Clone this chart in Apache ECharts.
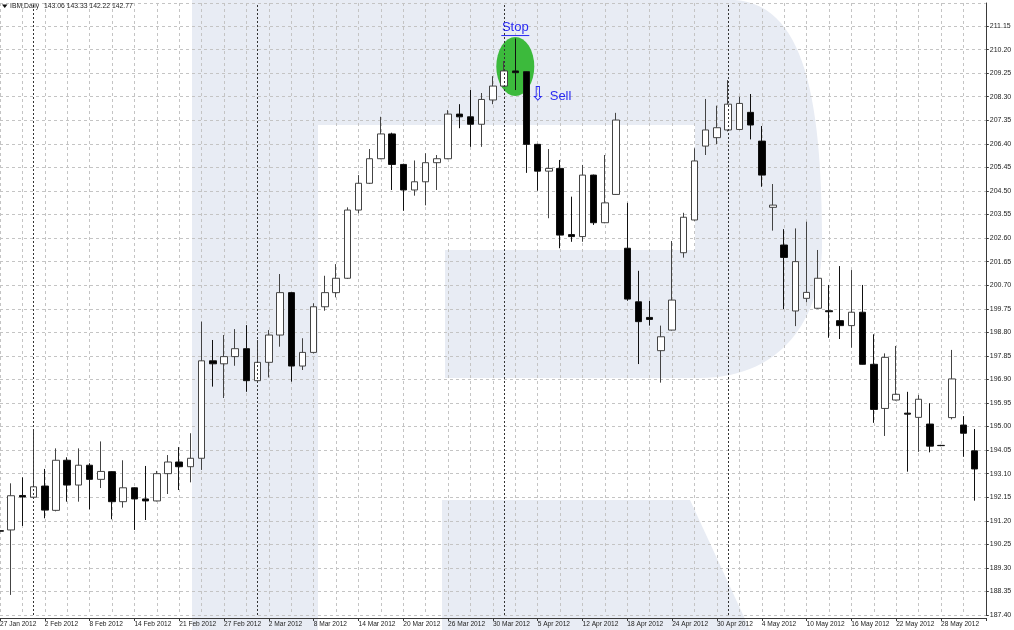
<!DOCTYPE html>
<html><head><meta charset="utf-8">
<script src="https://cdn.jsdelivr.net/npm/echarts@6/dist/echarts.min.js"></script>
<style>html,body{margin:0;padding:0;background:#fff}#c{width:1014px;height:630px}</style>
</head><body><div id="c"></div>
<script>
// ---- data (IBM, Daily) ----
const dates = ['27 Jan 2012','30 Jan 2012','31 Jan 2012','1 Feb 2012','2 Feb 2012','3 Feb 2012','6 Feb 2012','7 Feb 2012','8 Feb 2012','9 Feb 2012',
'10 Feb 2012','13 Feb 2012','14 Feb 2012','15 Feb 2012','16 Feb 2012','17 Feb 2012','21 Feb 2012','22 Feb 2012','23 Feb 2012','24 Feb 2012',
'27 Feb 2012','28 Feb 2012','29 Feb 2012','1 Mar 2012','2 Mar 2012','5 Mar 2012','6 Mar 2012','7 Mar 2012','8 Mar 2012','9 Mar 2012',
'12 Mar 2012','13 Mar 2012','14 Mar 2012','15 Mar 2012','16 Mar 2012','19 Mar 2012','20 Mar 2012','21 Mar 2012','22 Mar 2012','23 Mar 2012',
'26 Mar 2012','27 Mar 2012','28 Mar 2012','29 Mar 2012','30 Mar 2012','2 Apr 2012','3 Apr 2012','4 Apr 2012','5 Apr 2012','9 Apr 2012',
'10 Apr 2012','11 Apr 2012','12 Apr 2012','13 Apr 2012','16 Apr 2012','17 Apr 2012','18 Apr 2012','19 Apr 2012','20 Apr 2012','23 Apr 2012',
'24 Apr 2012','25 Apr 2012','26 Apr 2012','27 Apr 2012','30 Apr 2012','1 May 2012','2 May 2012','3 May 2012','4 May 2012','7 May 2012',
'8 May 2012','9 May 2012','10 May 2012','11 May 2012','14 May 2012','15 May 2012','16 May 2012','17 May 2012','18 May 2012','21 May 2012',
'22 May 2012','23 May 2012','24 May 2012','25 May 2012','28 May 2012','29 May 2012','30 May 2012','31 May 2012'];

const opens = [190.80,190.83,192.22,192.15,192.60,191.62,193.64,192.64,193.44,192.87,
193.18,191.97,192.53,192.08,192.00,193.10,193.57,193.38,193.72,197.65,
197.53,197.82,198.14,196.85,197.59,198.69,200.40,197.44,197.99,199.83,
200.40,200.98,203.73,204.81,205.80,206.80,205.57,204.54,204.87,205.64,
205.80,207.60,207.49,207.19,208.17,208.73,209.34,209.31,206.38,205.30,
205.41,202.74,202.66,205.14,203.22,204.36,202.19,200.03,199.40,198.06,
198.89,202.01,203.33,206.31,206.65,206.96,206.98,207.67,206.51,203.84,
202.32,199.66,200.17,199.77,199.67,199.27,199.07,199.61,197.51,195.73,
196.07,195.54,195.37,195.10,194.24,195.36,195.06,194.02];
const closes = [190.78,192.21,192.16,192.57,191.63,193.64,192.64,193.44,192.87,193.19,
191.97,192.53,192.08,192.00,193.10,193.57,193.38,193.72,197.65,197.53,
197.82,198.14,196.85,197.59,198.69,200.40,197.44,197.99,199.83,200.40,
200.98,203.73,204.81,205.80,206.80,205.57,204.54,204.87,205.64,205.80,
207.60,207.49,207.19,208.19,208.73,209.34,209.27,206.38,205.30,205.41,
202.72,202.66,205.14,203.22,204.02,207.36,200.14,199.23,199.32,198.62,
200.10,203.44,205.71,206.96,207.05,208.00,208.03,207.16,205.14,203.93,
201.82,201.65,200.41,200.98,199.63,199.07,199.61,197.51,195.69,197.79,
196.30,195.50,196.10,194.21,194.23,196.92,194.73,193.29];
const lows = [190.60,188.21,190.99,192.10,191.30,191.58,191.97,191.97,191.66,192.52,
191.26,191.73,190.83,191.23,191.98,192.28,192.44,192.75,193.25,196.61,
196.15,197.45,196.40,196.80,196.98,198.22,196.81,197.28,197.95,199.67,
200.21,200.95,203.60,204.78,205.78,204.54,203.70,204.31,203.92,204.54,
205.78,207.03,206.28,206.28,208.00,208.70,208.57,205.23,204.51,203.40,
202.19,202.45,202.45,203.13,203.20,204.34,200.07,197.52,199.07,196.77,
198.87,201.81,203.30,205.95,206.39,206.90,206.95,206.58,204.67,202.90,
199.73,199.05,200.01,199.75,198.58,198.53,198.18,197.50,195.15,194.62,
196.05,193.18,193.98,193.96,194.21,195.29,193.78,192.01];
const highs = [191.00,192.71,192.95,194.89,193.29,194.12,193.76,194.12,193.52,194.40,
193.20,193.64,192.55,193.41,193.21,193.85,194.17,194.73,199.23,198.49,
198.69,198.93,199.09,198.49,198.89,201.15,200.42,198.56,199.97,201.08,
201.55,203.84,205.14,206.19,207.49,206.85,205.60,205.73,206.02,205.95,
207.76,208.00,208.57,208.45,209.13,209.74,210.65,209.32,206.40,206.19,
205.75,204.27,205.55,205.16,205.95,207.65,204.02,201.28,200.07,199.07,
202.48,203.62,206.22,208.21,207.94,208.97,208.30,208.41,207.12,204.78,
202.96,202.99,203.26,202.12,200.71,201.47,201.31,200.71,198.72,197.95,
198.25,196.40,196.27,195.94,194.26,198.09,195.42,194.90];

// first bar of each month (period separators)
const monthStarts = ['1 Feb 2012','1 Mar 2012','2 Apr 2012','1 May 2012'];
// y tick labels: 187.40 + n*0.95
const yMin = 187.40, yStep = 0.95, yMax = 212.08;
const titleSymbol = 'IBM,Daily';
const titleValues = '143.06 143.33 142.22 142.77';
// annotation anchors [category, price]
const stopAnchor = ['3 Apr 2012', 209.52];
const stopLabelAnchor = ['3 Apr 2012', 211.11];
const sellAnchor = ['5 Apr 2012', 208.37];

const categories = dates.concat(['']);
const candles = dates.map((d, i) => [opens[i], closes[i], lows[i], highs[i]]);

const FONT = '"Liberation Sans", Arial, sans-serif';
const chart = echarts.init(document.getElementById('c'), null, {renderer: 'canvas'});

chart.setOption({
  animation: false,
  backgroundColor: '#ffffff',
  grid: {left: 0, right: 28.2, top: 3, bottom: 15, containLabel: false, outerBoundsMode: 'none'},
  xAxis: {
    type: 'category', data: categories, boundaryGap: false, offset: 3,
    axisLine: {lineStyle: {color: '#3a3a3a', width: 1}},
    axisTick: {show: true, interval: 3, length: 3, lineStyle: {color: '#3a3a3a'}},
    axisLabel: {interval: 3, align: 'left', margin: 3, fontSize: 6.6, color: '#222', fontFamily: FONT},
    splitLine: {show: true, interval: (i) => i % 2 === 0, lineStyle: {color: '#c4c4c4', type: [3, 3], width: 1}}
  },
  yAxis: {
    type: 'value', position: 'right', min: yMin, max: yMax, interval: yStep,
    axisLine: {show: true, lineStyle: {color: '#3a3a3a', width: 1}},
    axisTick: {show: true, length: 3, lineStyle: {color: '#3a3a3a'}},
    axisLabel: {margin: 4, fontSize: 7, color: '#222', fontFamily: FONT, showMaxLabel: false,
      formatter: (v) => v.toFixed(2)},
    splitLine: {show: true, lineStyle: {color: '#c4c4c4', type: [3, 3], width: 1}}
  },
  series: [{
    type: 'candlestick', data: candles, barWidth: 7,
    itemStyle: {color: '#ffffff', color0: '#000000', borderColor: '#444444', borderColor0: '#111111', borderWidth: 1},
    markLine: {
      symbol: ['none', 'none'], silent: true, animation: false,
      label: {show: false},
      lineStyle: {color: '#333333', type: [2, 2], width: 1},
      data: monthStarts.map(d => ({xAxis: d}))
    }
  }]
});

// ---- decoration: background "R" watermark + annotations ----
function bez(p0, p1, p2, p3, n) {
  const pts = [];
  for (let i = 1; i <= n; i++) {
    const t = i / n, u = 1 - t;
    pts.push([u*u*u*p0[0] + 3*u*u*t*p1[0] + 3*u*t*t*p2[0] + t*t*t*p3[0],
              u*u*u*p0[1] + 3*u*u*t*p1[1] + 3*u*t*t*p2[1] + t*t*t*p3[1]]);
  }
  return pts;
}
const WM = '#e8ecf4';
const bowl = [[318, 0], [735, 0]]
  .concat(bez([735, 0], [805, 5], [822, 100], [822, 245], 30))
  .concat(bez([822, 245], [822, 320], [780, 378], [700, 378], 30))
  .concat([[445, 378], [445, 250], [695, 250], [695, 125], [318, 125]]);
const leg = [[442, 500], [690, 500], [750, 630], [442, 630]];

const cs = {xAxisIndex: 0, yAxisIndex: 0};
const pStop = chart.convertToPixel(cs, stopAnchor);
const pStopLbl = chart.convertToPixel(cs, stopLabelAnchor);
const pSell = chart.convertToPixel(cs, sellAnchor);
const BLUE = '#2a2af2';

chart.setOption({
  graphic: {elements: [
    {type: 'rect', z: -10, silent: true, shape: {x: 192, y: 0, width: 126, height: 630}, style: {fill: WM}},
    {type: 'polygon', z: -10, silent: true, shape: {points: bowl}, style: {fill: WM}},
    {type: 'polygon', z: -10, silent: true, shape: {points: leg}, style: {fill: WM}},
    {type: 'circle', z: 1, silent: true, x: pStop[0], y: pStop[1], scaleY: 29.5 / 19,
      shape: {cx: 0, cy: 0, r: 19}, style: {fill: '#3cba3c'}},
    {type: 'text', z: 10, silent: true, x: pStopLbl[0], y: pStopLbl[1],
      style: {text: 'Stop', fill: BLUE, font: '13px ' + FONT, textAlign: 'center', textVerticalAlign: 'middle'}},
    {type: 'line', z: 10, silent: true, shape: {x1: pStopLbl[0] - 14, y1: pStopLbl[1] + 8.5, x2: pStopLbl[0] + 14, y2: pStopLbl[1] + 8.5},
      style: {stroke: BLUE, lineWidth: 1}},
    {type: 'text', z: 10, silent: true, x: pSell[0], y: pSell[1],
      style: {text: '⇩', fill: BLUE, font: '19px "DejaVu Sans"', textAlign: 'center', textVerticalAlign: 'middle'}},
    {type: 'text', z: 10, silent: true, x: pSell[0] + 12, y: pSell[1] + 1,
      style: {text: 'Sell', fill: BLUE, font: '13px ' + FONT, textAlign: 'left', textVerticalAlign: 'middle'}},
    {type: 'polygon', z: 10, silent: true, shape: {points: [[2, 4.5], [7.5, 4.5], [4.75, 8]]}, style: {fill: '#111'}},
    {type: 'text', z: 10, silent: true, x: 10, y: 6.5,
      style: {text: titleSymbol, fill: '#1e1e1e', font: '6.8px ' + FONT, textVerticalAlign: 'middle'}},
    {type: 'text', z: 10, silent: true, x: 44, y: 6.5,
      style: {text: titleValues, fill: '#1e1e1e', font: '6.8px ' + FONT, textVerticalAlign: 'middle'}}
  ]}
});
</script></body></html>
